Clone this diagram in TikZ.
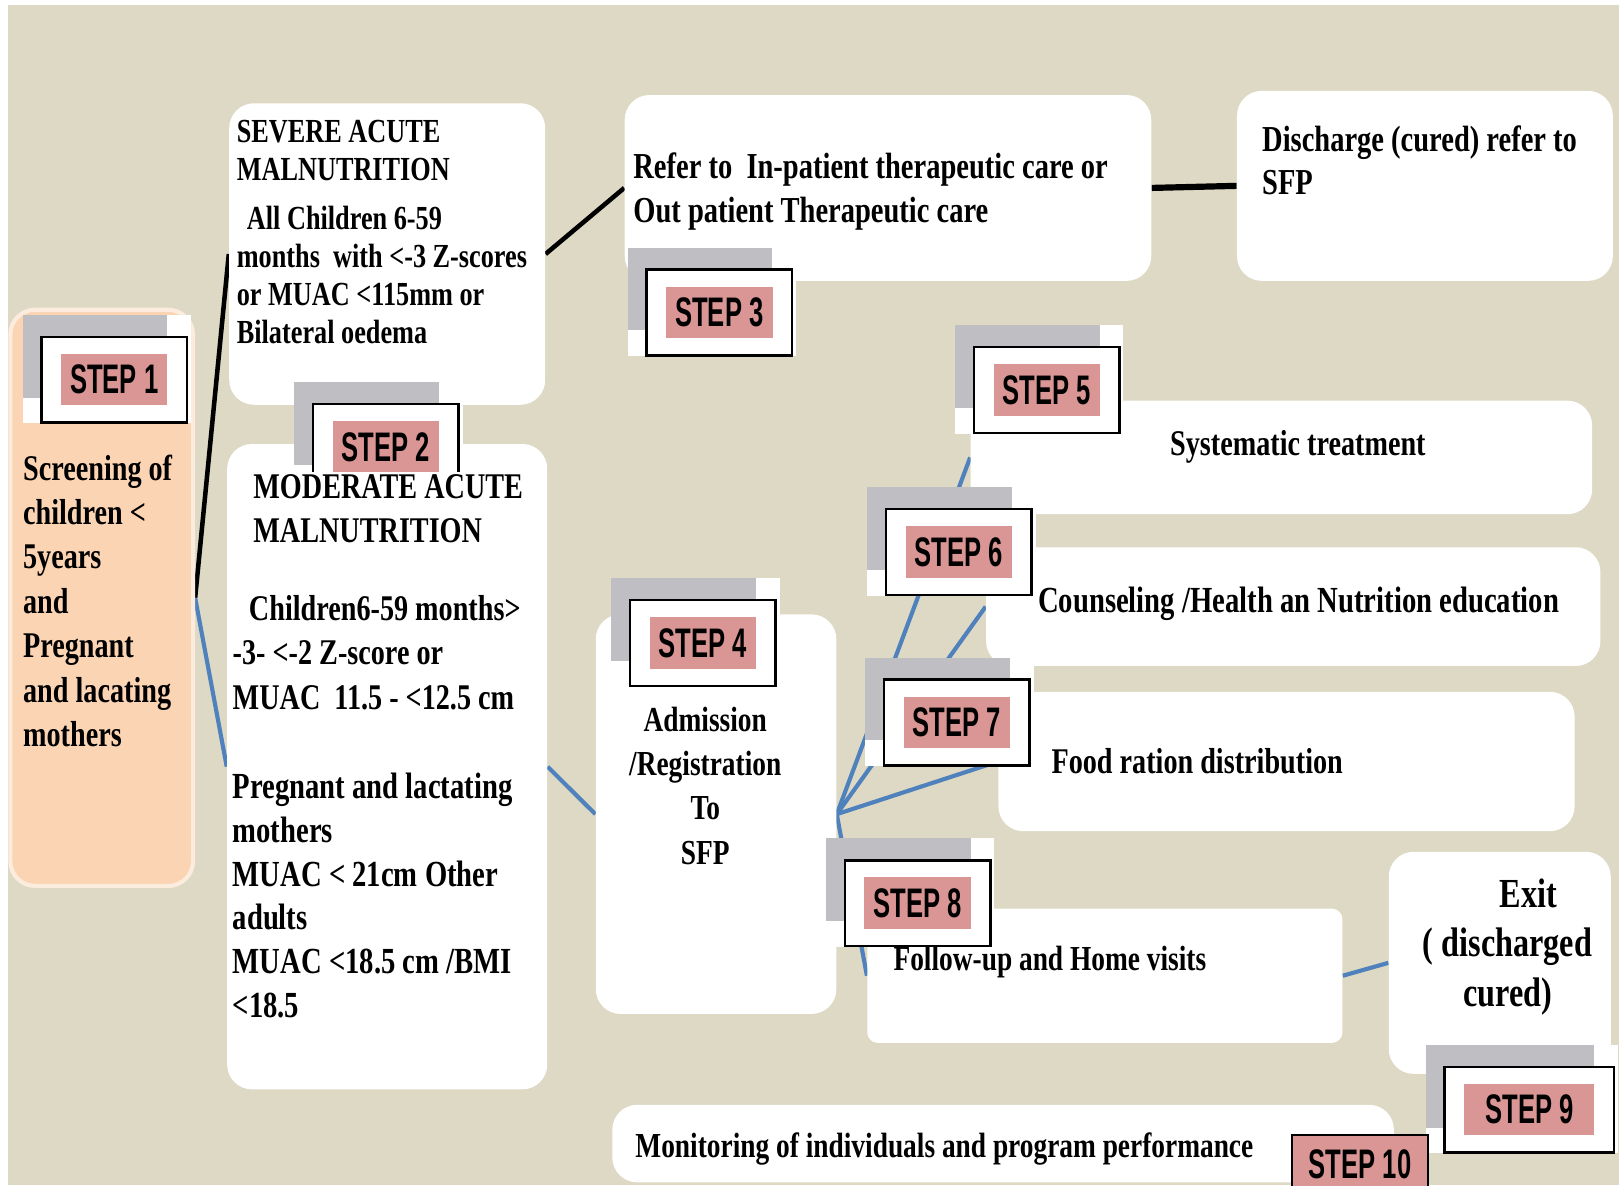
\documentclass[tikz,border=0pt]{standalone}
\usepackage{fontspec}
\newfontfamily\bodyfont[FakeStretch=0.78]{Liberation Serif}
\newfontfamily\labelfont[FakeStretch=0.62]{Liberation Sans}
\definecolor{canvas}{HTML}{DDD9C4}
\definecolor{peach}{HTML}{FBD4B4}
\definecolor{peachrim}{HTML}{FCECDD}
\definecolor{tabgray}{HTML}{BFBFC3}
\definecolor{steppink}{HTML}{D99694}
\definecolor{linkblue}{HTML}{4F81BD}
\pgfdeclarelayer{canvaslayer}
\pgfdeclarelayer{links}
\pgfsetlayers{canvaslayer,links,main}

\tikzset{
  whitebox/.style={fill=white, rounded corners=12pt, inner sep=0pt},
  sized/.style 2 args={font=\bodyfont\bfseries\fontsize{#1}{#2}\selectfont,
    inner sep=0pt, align=left, text=black},
  stepframe/.style={draw=black, line width=1.2pt, fill=white,
    minimum height=41.5pt, inner sep=0pt},
  steppinkbox/.style={fill=steppink, minimum height=25pt, inner sep=0pt,
    font=\labelfont\bfseries\fontsize{20}{20}\selectfont},
  blackline/.style={line width=2.2pt, black},
  blueline/.style={line width=2pt, linkblue},
}

% step label: name, left, top, label, extra width
\newcommand\stepmark[5]{%
  \fill[white] (#2,#3) rectangle ++(163+#5,105);
  \fill[tabgray] (#2,#3) rectangle ++(140+#5,80);
  \node[stepframe, minimum width={(141+#5)*0.5pt}, anchor=north west] (#1f) at (#2+17,#3+20) {};
  \node[steppinkbox, minimum width={(103+#5)*0.5pt}] (#1) at (#1f.center) {#4};
}

\begin{document}
\begin{tikzpicture}[x=0.5pt, y=-0.5pt]
\useasboundingbox (0,0) rectangle (1568,1148);
\begin{pgfonlayer}{canvaslayer}
  \fill[white] (0,0) rectangle (1568,1148);
  \fill[canvas] (8,5) rectangle (1568,1148);
\end{pgfonlayer}

% boxes
\node[whitebox, fill=peach, draw=peachrim, line width=2pt,
      minimum width=88.5pt, minimum height=279pt] (screen) at (98.5,579) {};
\node[whitebox, minimum width=153pt, minimum height=146pt] (sev) at (375,246) {};
\node[whitebox, minimum width=155pt, minimum height=312.5pt] (mod) at (375,742.5) {};
\node[whitebox, minimum width=255pt, minimum height=90pt] (refer) at (860,182) {};
\node[whitebox, minimum width=182pt, minimum height=92pt] (disch) at (1380,180) {};
\node[whitebox, minimum width=116.5pt, minimum height=193.5pt] (adm) at (693.5,788.5) {};
\node[whitebox, minimum width=301pt, minimum height=55pt] (sys) at (1241,443) {};
\node[whitebox, minimum width=297.5pt, minimum height=57.5pt] (couns) at (1252.5,587.5) {};
\node[whitebox, minimum width=279pt, minimum height=67.5pt] (food) at (1246,737.5) {};
\node[whitebox, rounded corners=5pt, minimum width=230pt, minimum height=65pt] (follow) at (1070,945) {};
\node[whitebox, minimum width=107.5pt, minimum height=107.5pt] (exit) at (1452.5,932.5) {};
\node[whitebox, minimum width=378.5pt, minimum height=37.5pt] (monit) at (971.5,1107.5) {};

% connectors, kept behind the boxes
\begin{pgfonlayer}{links}
  \draw[blackline] (screen.east) -- (sev.west);
  \draw[blueline] (screen.east) -- (mod.west);
  \draw[blackline] (sev.east) -- (refer.west);
  \draw[blackline, line width=3pt] (refer.east) -- (disch.west);
  \draw[blueline] (mod.east) -- (adm.west);
  \draw[blueline] (adm.east) -- (sys.west);
  \draw[blueline] (adm.east) -- (couns.west);
  \draw[blueline] (adm.east) -- (food.west);
  \draw[blueline] (adm.east) -- (follow.west);
  \draw[blueline] (follow.east) -- (exit.west);
\end{pgfonlayer}

% step labels
\stepmark{s1}{22}{305}{STEP 1}{0}
\stepmark{s2}{285}{370}{STEP 2}{0}
\stepmark{s3}{608}{240}{STEP 3}{0}
\stepmark{s4}{592}{560}{STEP 4}{0}
\stepmark{s5}{925}{315}{STEP 5}{0}
\stepmark{s6}{840}{472}{STEP 6}{0}
\stepmark{s7}{838}{637}{STEP 7}{0}
\stepmark{s8}{800}{812}{STEP 8}{0}
\stepmark{s9}{1381}{1012}{STEP 9}{23}
\node[stepframe, fill=steppink, minimum width=66pt, minimum height=32pt, anchor=north west,
      font=\labelfont\bfseries\fontsize{20}{20}\selectfont, text depth=0pt]
      (s10) at (1250,1098) {\raisebox{4pt}{STEP 10}};

% texts
\node[sized={17.5}{21.5}, anchor=north west] (screentxt) at (22,440)
  {Screening of\\children <\\5years\\and\\Pregnant\\and lacating\\mothers};
\node[sized={16.3}{18.5}, anchor=north west] (sevtxt) at (229,116)
  {SEVERE ACUTE\\MALNUTRITION\\[5pt]\hspace*{0.3em}All Children 6-59\\months\ \ with <-3 Z-scores\\or MUAC <115mm or\\Bilateral oedema};
\node[sized={17.5}{21.5}, anchor=north west, fill=white, inner ysep=1pt] (modhead) at (245,457)
  {MODERATE ACUTE\\MALNUTRITION};
\node[sized={17.5}{21.5}, anchor=north west] (modkids) at (225,576)
  {\hspace*{0.45em}Children6-59 months>\\-3- <-2 Z-score or\\MUAC\ \ 11.5 - <12.5 cm};
\node[sized={17.8}{21.25}, anchor=north west] (modpreg) at (225,748)
  {Pregnant and lactating\\mothers\\MUAC < 21cm Other\\adults\\MUAC <18.5 cm /BMI\\<18.5};
\node[sized={17.7}{21}, anchor=north west] (refertxt) at (613,148)
  {Refer to\ \ In-patient therapeutic care or\\Out patient Therapeutic care};
\node[sized={17.7}{21}, anchor=north west] (dischtxt) at (1222,121)
  {Discharge (cured) refer to\\SFP};
\node[sized={17}{21.5}, anchor=north, align=center] (admtxt) at (683,684)
  {Admission\\/Registration\\To\\SFP};
\node[sized={17.5}{21}] (systxt) at (1257,433) {Systematic treatment};
\node[sized={17.8}{21}, anchor=west] (counstxt) at (1005,585) {Counseling /Health an Nutrition education};
\node[sized={17.5}{21}, anchor=west] (foodtxt) at (1018,737) {Food ration distribution};
\node[sized={17}{21}, anchor=west] (followtxt) at (865,932) {Follow-up and Home visits};
\node[sized={20}{24}, align=center] (exittxt) at (1460,917)
  {\hspace*{1em}Exit\\( discharged\\cured)};
\node[sized={17}{20}, anchor=west] (monittxt) at (615,1113) {Monitoring of individuals and program performance};
\end{tikzpicture}
\end{document}
